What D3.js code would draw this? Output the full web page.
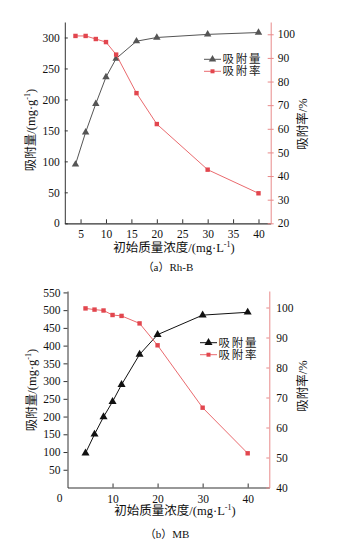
<!DOCTYPE html>
<html><head><meta charset="utf-8">
<script src="https://cdn.jsdelivr.net/npm/d3@7"></script>
<style>
html,body{margin:0;padding:0;background:#fff;}
svg{display:block;}
text{font-family:"Liberation Serif","Noto Sans CJK SC",serif;}
</style></head>
<body><svg id="c" width="355" height="547"></svg>
<script>
// ---- data ----
const concA = [4, 6, 8, 10, 12, 16, 20, 30, 40];
const qA = [95, 147, 193, 236, 266, 294, 300, 305, 308];
const rateA = [99.3, 99.3, 98.0, 96.7, 91.4, 75.1, 62.0, 42.7, 32.7];
const concB = [4, 6, 8, 10, 12, 16, 20, 30, 40];
const qB = [97, 150, 199, 242, 290, 375, 431, 486, 494];
const rateB = [99.7, 99.3, 99.0, 97.5, 97.2, 94.7, 87.4, 66.6, 51.4];
const xTicksA = [5, 10, 15, 20, 25, 30, 35, 40];
const yTicksA = [0, 50, 100, 150, 200, 250, 300];
const rTicksA = [20, 30, 40, 50, 60, 70, 80, 90, 100];
const xTicksB = [10, 20, 30, 40];
const yTicksB = [50, 100, 150, 200, 250, 300, 350, 400, 450, 500, 550];
const rTicksB = [40, 50, 60, 70, 80, 90, 100];
const legendLabels = ["吸附量", "吸附率"];
const xTitle = "初始质量浓度/(mg·L";
const yTitle = "吸附量/(mg·g";
const rTitle = "吸附率/%";
const captions = ["（a）Rh-B", "（b）MB"];

const svg = d3.select("#c");
svg.append("rect").attr("width",355).attr("height",547).attr("fill","#fff");
const RED = "#e2464e", REDLINE = "#ea6a6e", REDAXIS = "#e88a8a";

function panel(cfg){
  const g = svg.append("g");
  const x = d3.scaleLinear().domain(cfg.xDom).range([cfg.L, cfg.R]);
  const y = d3.scaleLinear().domain(cfg.yDom).range([cfg.B, cfg.T]);
  const r = d3.scaleLinear().domain(cfg.rDom).range([cfg.B, cfg.T]);

  // bottom axis
  const xa = g.append("g").attr("transform",`translate(0,${cfg.B})`)
    .call(d3.axisBottom(x).tickValues(cfg.xTicks).tickSizeInner(-4).tickSizeOuter(0).tickPadding(7));
  xa.select(".domain").attr("stroke","#333").attr("stroke-width",1.2);
  xa.selectAll("line").attr("stroke","#333");
  xa.selectAll("text").attr("font-size",11.5).attr("fill","#111");

  // left axis
  const ya = g.append("g").attr("transform",`translate(${cfg.L},0)`)
    .call(d3.axisLeft(y).tickValues(cfg.yTicks).tickSizeInner(cfg.leftIn ? -3 : 4).tickSizeOuter(0).tickPadding(cfg.leftIn ? 5 : 3));
  ya.select(".domain").attr("stroke","#333").attr("stroke-width",1);
  ya.selectAll("line").attr("stroke","#333");
  ya.selectAll("text").attr("font-size",11.5).attr("fill","#111");

  // right axis
  const ra = g.append("g").attr("transform",`translate(${cfg.R},0)`)
    .call(d3.axisRight(r).tickValues(cfg.rTicks).tickSizeInner(cfg.rightCross ? 3 : -3).tickSizeOuter(0).tickPadding(cfg.rightCross ? 4 : 7));
  ra.select(".domain").attr("stroke",REDAXIS).attr("stroke-width",1);
  ra.selectAll("line").attr("stroke",REDAXIS);
  if (cfg.rightCross) ra.selectAll(".tick line").attr("x1",-3);
  ra.selectAll("text").attr("font-size",11.5).attr("fill","#111");

  // q line
  const lq = d3.line().x((d,i)=>x(cfg.conc[i])).y(d=>y(d));
  g.append("path").datum(cfg.q).attr("d",lq).attr("fill","none").attr("stroke",cfg.qColor).attr("stroke-width",1);
  const tri = d3.symbol().type(d3.symbolTriangle).size(cfg.triSize);
  g.selectAll(".tri").data(cfg.q).join("path").attr("d",tri)
    .attr("transform",(d,i)=>`translate(${x(cfg.conc[i])},${y(d)})`).attr("fill",cfg.qColor);

  // rate line
  const lr = d3.line().x((d,i)=>x(cfg.conc[i])).y(d=>r(d));
  g.append("path").datum(cfg.rate).attr("d",lr).attr("fill","none").attr("stroke",REDLINE).attr("stroke-width",1);
  g.selectAll(".sq").data(cfg.rate).join("rect")
    .attr("x",(d,i)=>x(cfg.conc[i])-2.2).attr("y",d=>r(d)-2.2).attr("width",4.4).attr("height",4.4).attr("fill",RED);

  // legend
  const lg = g.append("g");
  [0,1].forEach(k=>{
    const yy = cfg.legY + k*12;
    lg.append("line").attr("x1",cfg.legX).attr("x2",cfg.legX+17).attr("y1",yy).attr("y2",yy)
      .attr("stroke", k===0 ? cfg.qColor : REDLINE).attr("stroke-width",1);
    if (k===0) lg.append("path").attr("d",tri).attr("transform",`translate(${cfg.legX+8.5},${yy})`).attr("fill",cfg.qColor);
    else lg.append("rect").attr("x",cfg.legX+6.5).attr("y",yy-2).attr("width",4).attr("height",4).attr("fill",RED);
    lg.append("text").attr("x",cfg.legX+18.5).attr("y",yy+4).attr("font-size",11.5).attr("fill","#222")
      .attr("font-family","'Noto Sans CJK SC'").attr("textLength",38).text(legendLabels[k]);
  });

  // x title
  const xt = g.append("text").attr("x",cfg.xtX).attr("y",cfg.xtY).attr("text-anchor","middle").attr("font-size",12.5).attr("fill","#111");
  xt.append("tspan").text(xTitle);
  xt.append("tspan").attr("dy",-5).attr("font-size",8).text("-1");
  xt.append("tspan").attr("dy",5).text(")");

  // y title
  const yt = g.append("text").attr("transform",`translate(${cfg.ytX},${cfg.ytY}) rotate(-90)`)
    .attr("text-anchor","middle").attr("font-size",12.5).attr("fill","#111");
  yt.append("tspan").text(yTitle);
  yt.append("tspan").attr("dy",-5).attr("font-size",8).text("-1");
  yt.append("tspan").attr("dy",5).text(")");

  // right title
  g.append("text").attr("transform",`translate(${cfg.rtX},${cfg.rtY}) rotate(-90)`)
    .attr("text-anchor","middle").attr("font-size",12.5).attr("fill","#111").text(rTitle);

  // caption
  g.append("text").attr("x",cfg.capX).attr("y",cfg.capY).attr("text-anchor","middle").attr("font-size",11).attr("fill","#111").text(cfg.caption);
  return {g,x,y};
}

panel({L:64.8,R:270.7,T:22,B:223.3,xDom:[1.9,42.4],yDom:[0,325],rDom:[20,105.2],
  xTicks:xTicksA,yTicks:yTicksA,rTicks:rTicksA,leftIn:true,rightCross:true,
  conc:concA,q:qA,rate:rateA,qColor:"#555",triSize:24,
  legX:204,legY:59.3,xtX:174,xtY:252,ytX:35,ytY:130,rtX:307,rtY:124,
  capX:168,capY:271,caption:captions[0]});

const pb = panel({L:67.5,R:269.3,T:291,B:487.5,xDom:[0,44.8],yDom:[0,554],rDom:[40,105.5],
  xTicks:xTicksB,yTicks:yTicksB,rTicks:rTicksB,leftIn:false,rightCross:false,
  conc:concB,q:qB,rate:rateB,qColor:"#111",triSize:28,
  legX:200,legY:342.7,xtX:175,xtY:515,ytX:36,ytY:390,rtX:307,rtY:386,
  capX:167,capY:538,caption:captions[1]});
pb.g.append("text").attr("x",59.5).attr("y",502).attr("text-anchor","middle").attr("font-size",11.5).attr("fill","#111").text("0");
</script></body></html>
